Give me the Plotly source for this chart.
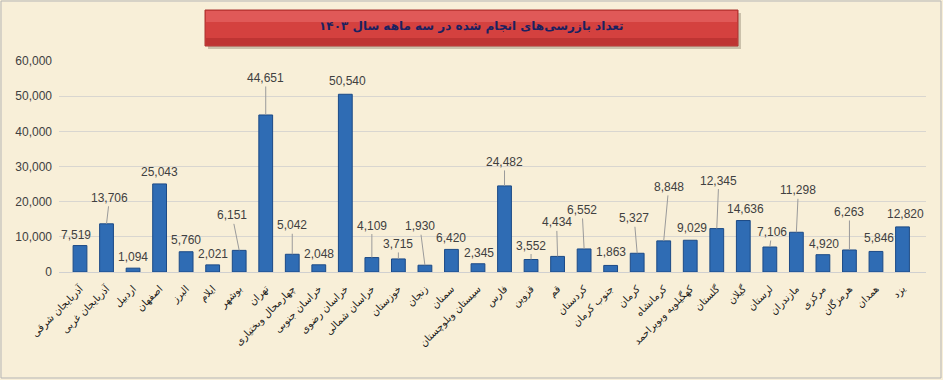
import plotly.graph_objects as go

W, H = 943, 380

provinces = [
    "آذربایجان شرقی", "آذربایجان غربی", "اردبیل", "اصفهان", "البرز", "ایلام",
    "بوشهر", "تهران", "چهارمحال وبختیاری", "خراسان جنوبی", "خراسان رضوی",
    "خراسان شمالی", "خوزستان", "زنجان", "سمنان", "سیستان وبلوچستان", "فارس",
    "قزوین", "قم", "کردستان", "جنوب کرمان", "کرمان", "کرمانشاه",
    "کهگیلویه وبویراحمد", "گلستان", "گیلان", "لرستان", "مازندران", "مرکزی",
    "هرمزگان", "همدان", "یزد",
]
inspections = [
    7519, 13706, 1094, 25043, 5760, 2021, 6151, 44651, 5042, 2048, 50540,
    4109, 3715, 1930, 6420, 2345, 24482, 3552, 4434, 6552, 1863, 5327, 8848,
    9029, 12345, 14636, 7106, 11298, 4920, 6263, 5846, 12820,
]
y_ticks = [0, 10000, 20000, 30000, 40000, 50000, 60000]
title_text = "تعداد بازرسی‌های انجام شده در سه ماهه سال ۱۴۰۳"

# label placement (pixel offsets of label centre from bar top) and leader flags
label_dx = [-4, 3, 0, 0, 0, 0, -7, 0, 0, 0, 2, 0, 0, -5, 0, 1, 0, 0, -1, -2,
            0, -3, 5, 2, 2, 2, 2, 2, 1, 0, 3, 3]
label_dy = [-11, -26, -11, -12, -12, -11, -35, -37, -29, -11, -13, -32, -15,
            -39, -11, -11, -24, -14, -34, -39, -13, -35, -54, -12, -48, -12,
            -15, -42, -11, -38, -13, -13]
leader = [0, 1, 0, 0, 0, 0, 1, 1, 1, 0, 0, 1, 1, 1, 0, 0, 1, 1, 1, 1,
          0, 1, 1, 0, 1, 0, 1, 1, 0, 1, 0, 0]

fig = go.Figure()
fig.add_trace(go.Bar(
    x=provinces, y=inspections,
    marker=dict(color="#2f6cb4", line=dict(color="#1c4a86", width=1)),
    hoverinfo="x+y",
))

label_font = dict(family="Liberation Sans", size=12, color="#404040")
annotations = []
for p, v, dx, dy, ld in zip(provinces, inspections, label_dx, label_dy, leader):
    txt = f"{v:,}"
    if ld:
        annotations.append(dict(
            x=p, y=v, xref="x", yref="y", text=txt, showarrow=True,
            ax=dx, ay=dy, arrowhead=0, arrowwidth=1, arrowcolor="#9a9a9a",
            standoff=0, font=label_font,
        ))
    else:
        annotations.append(dict(
            x=p, y=v, xref="x", yref="y", text=txt, showarrow=False,
            xshift=dx, yshift=-dy, font=label_font,
        ))

annotations.append(dict(
    x=(205 + 738) / 2 / W, y=1 - 28 / H, xref="paper", yref="paper",
    xanchor="center", yanchor="middle", yshift=2,
    text="<b>" + title_text + "</b>", showarrow=False,
    font=dict(family="DejaVu Sans", size=12, color="#1b2160"),
))

shapes = [
    dict(type="rect", xref="paper", yref="paper", x0=1 / W, x1=(W - 2) / W,
         y0=1 - (H - 2) / H, y1=1 - 1 / H, line=dict(color="#b5b5b5", width=1),
         layer="below"),
    # title shadow
    dict(type="rect", xref="paper", yref="paper", x0=208 / W, x1=741 / W,
         y0=1 - 49 / H, y1=1 - 13 / H, fillcolor="rgba(120,110,90,0.35)",
         line=dict(width=0), layer="below"),
    dict(type="rect", xref="paper", yref="paper", x0=205 / W, x1=738 / W,
         y0=1 - 46 / H, y1=1 - 10 / H, fillcolor="#d4413f",
         line=dict(color="#a93230", width=1), layer="below"),
    dict(type="rect", xref="paper", yref="paper", x0=206 / W, x1=737 / W,
         y0=1 - 22 / H, y1=1 - 11 / H, fillcolor="rgba(240,120,120,0.45)",
         line=dict(width=0), layer="below"),
    dict(type="rect", xref="paper", yref="paper", x0=206 / W, x1=737 / W,
         y0=1 - 45 / H, y1=1 - 38 / H, fillcolor="rgba(150,30,30,0.35)",
         line=dict(width=0), layer="below"),
]

fig.update_layout(
    width=W, height=H,
    margin=dict(l=0, r=0, t=0, b=0),
    paper_bgcolor="#f8efd8",
    plot_bgcolor="rgba(0,0,0,0)",
    bargap=0.48,
    showlegend=False,
    annotations=annotations,
    shapes=shapes,
    xaxis=dict(
        domain=[59 / W, 926 / W], automargin=False,
        tickangle=-45, showgrid=False, showline=True,
        linecolor="#d0d0d0", ticks="", ticklabelstandoff=6,
        tickfont=dict(family="DejaVu Sans", size=10, color="#1a1a1a"),
    ),
    yaxis=dict(
        domain=[1 - 272 / H, 1 - 61 / H], automargin=False,
        range=[0, 60000], tickvals=y_ticks, tickformat=",",
        showgrid=True, gridcolor="#d9d6d0", gridwidth=1,
        zeroline=False, showline=False, ticks="", ticklabelstandoff=6,
        tickfont=dict(family="Liberation Sans", size=12, color="#404040"),
    ),
)

fig.write_html(
    "out.html",
    config={"displayModeBar": False},
    post_script="document.body.style.margin='0';document.body.style.padding='0';",
)
